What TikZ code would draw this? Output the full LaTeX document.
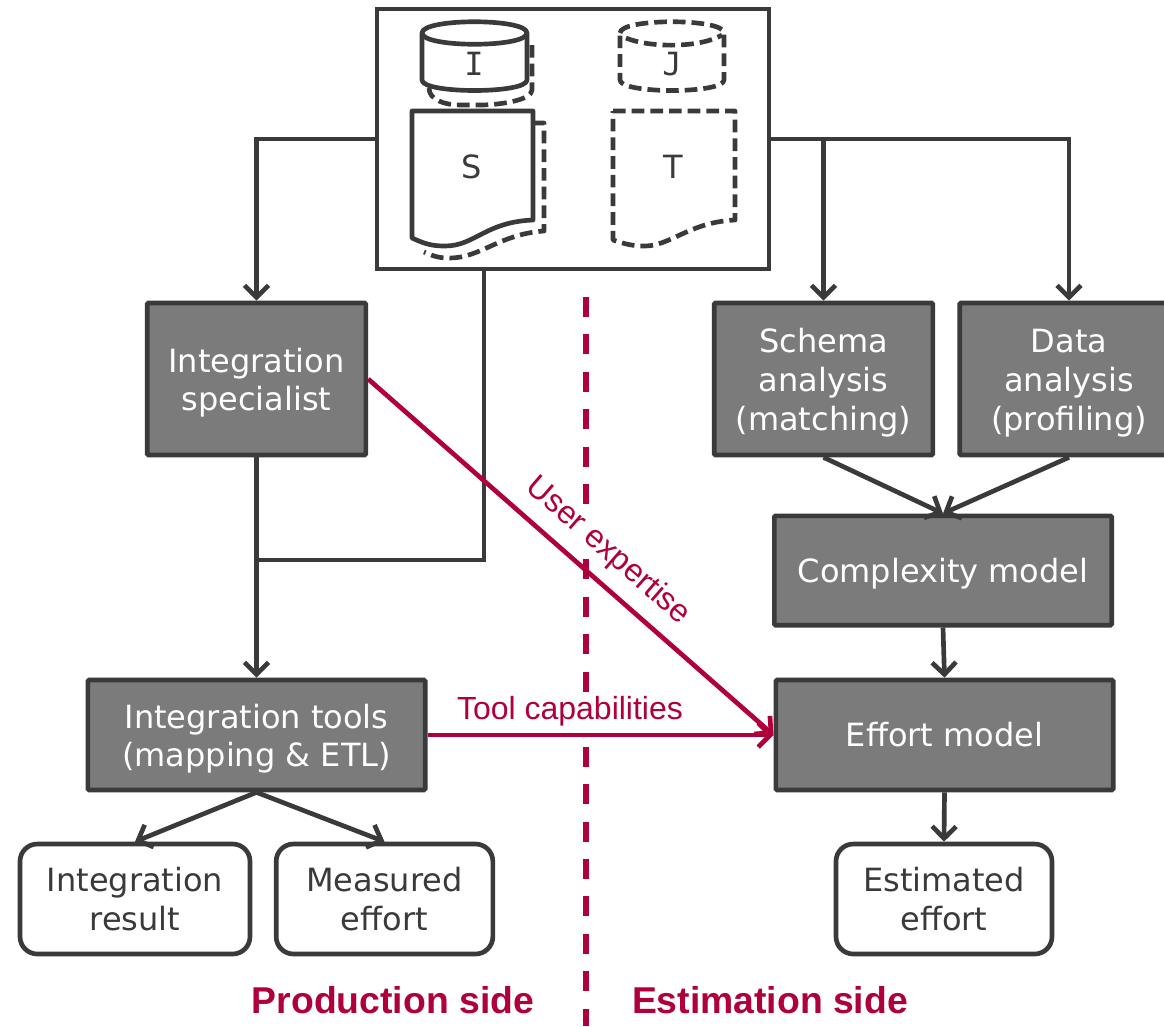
\documentclass[tikz,border=0pt]{standalone}
\usepackage{fontspec}
\setmainfont{DejaVu Sans}
\newfontfamily\labelfont{Liberation Sans}
\newfontfamily\letterfont{DejaVu Sans Mono}
\usetikzlibrary{arrows.meta}
\definecolor{edgegray}{HTML}{3A3A3A}
\definecolor{boxgray}{HTML}{7B7B7B}
\definecolor{wine}{HTML}{B0003C}
\newcommand{\lowered}{\rule{0pt}{23.5pt}}
\tikzset{
  procbox/.style={draw=edgegray,line width=3.5pt,fill=boxgray,text=white,align=center,inner sep=0pt,
    font=\fontsize{24}{29}\selectfont,rounded corners=1pt},
  resultbox/.style={draw=edgegray,line width=3.5pt,fill=white,text=edgegray,align=center,inner sep=0pt,
    font=\fontsize{24}{29}\selectfont,rounded corners=13pt,minimum height=82.5pt},
  flow/.style={draw=edgegray,line width=3.5pt,-{Straight Barb[length=9pt,width=18pt,line width=3.5pt]}},
  plain line/.style={draw=edgegray,line width=3.5pt},
  wineflow/.style={draw=wine,line width=3.5pt,-{Straight Barb[length=9pt,width=18pt,line width=3.5pt]}},
  solidshape/.style={draw=edgegray,line width=3.5pt,fill=white,line join=round},
  dashshape/.style={draw=edgegray,line width=3.5pt,dash pattern=on 9.5pt off 4.5pt,line join=round},
  letter/.style={text=edgegray,font=\fontsize{24}{26}\selectfont,inner sep=0pt},
  sidelabel/.style={text=wine,font=\labelfont\bfseries\fontsize{28}{30}\selectfont,inner sep=0pt},
  winelabel/.style={text=wine,fill=white,font=\labelfont\fontsize{24}{26}\selectfont,inner sep=2pt},
}
\begin{document}
\begin{tikzpicture}[x=0.75pt,y=-0.75pt]
\useasboundingbox (0,0) rectangle (1164,1026);

% divider
\coordinate (divtop) at (586,297);
\coordinate (divbottom) at (586,1026);
\draw[wine,line width=4pt,dash pattern=on 15pt off 13.1pt] (divtop) -- (divbottom);

% inputs
\node[draw=edgegray,line width=3.5pt,fill=white,minimum width=294pt,minimum height=195pt,inner sep=0pt] (inputs) at (573,139) {};
\draw[dashshape] (532,45) -- (532,90) .. controls (532,100) and (500,105) .. (480,105) -- (460,105) .. controls (445,105) and (429,100) .. (429,88);
\draw[solidshape] (422,33) .. controls (422,18) and (527,18) .. (527,33) -- (527,80) .. controls (527,94) and (422,94) .. (422,80) -- cycle;
\draw[edgegray,line width=3.5pt] (422,33) .. controls (422,48) and (527,48) .. (527,33);
\node[letter,font=\letterfont\fontsize{24}{26}\selectfont] (letterI) at (474,64) {I};
\draw[dashshape] (620,33) .. controls (620,18) and (724,18) .. (724,33) -- (724,80) .. controls (724,94) and (620,94) .. (620,80) -- cycle;
\draw[dashshape] (626,38) .. controls (650,48) and (700,48) .. (722,35);
\node[letter,font=\letterfont\fontsize{24}{26}\selectfont] (letterJ) at (672,64) {J};
\draw[dashshape] (533,123) -- (544,123) -- (544,231) .. controls (500,234) and (480,258) .. (450,258) .. controls (440,258) and (435,257) .. (424,252);
\draw[solidshape] (412,111) -- (533,111) -- (533,220) .. controls (485,222) and (475,246) .. (445,246) .. controls (432,246) and (425,244) .. (412,238) -- cycle;
\node[letter] (letterS) at (472,167) {S};
\draw[dashshape] (613,111) -- (735,111) -- (735,220) .. controls (690,222) and (670,246) .. (645,246) .. controls (632,246) and (625,244) .. (613,240) -- cycle;
\node[letter] (letterT) at (673,167) {T};

% boxes
\node[procbox,minimum width=164pt,minimum height=114pt] (specialist) at (256.5,379) {\lowered Integration\\specialist\vphantom{(}};
\node[procbox,minimum width=164pt,minimum height=114pt] (schema) at (823.5,379) {\lowered Schema\\analysis\\(matching)};
\node[procbox,minimum width=164pt,minimum height=114pt] (data) at (1069,379) {\lowered Data\\analysis\\(profiling)};
\node[procbox,minimum width=253pt,minimum height=82pt] (complexity) at (943,570.5) {\lowered Complexity model};
\node[procbox,minimum width=253pt,minimum height=82.5pt] (effort) at (944.5,735) {Effort model};
\node[procbox,minimum width=253pt,minimum height=82.5pt] (tools) at (256.5,735) {\lowered Integration tools\\(mapping \& ETL)};
\node[resultbox,minimum width=172.5pt] (intresult) at (135,899) {Integration\\result};
\node[resultbox,minimum width=162.5pt] (measured) at (384.5,899) {Measured\\effort};
\node[resultbox,minimum width=162pt] (estimated) at (944,899) {Estimated\\effort};

% connectors
\coordinate (exit) at (484,269);
\coordinate (joint) at (256.5,560);
\draw[flow] (inputs.west) -| (specialist.north);
\draw[flow] (inputs.east) -| (schema.north);
\draw[flow] (inputs.east) -| (data.north);
\draw[plain line] (exit) |- (joint);
\draw[flow] (specialist.south) -- (tools.north);
\draw[flow] (schema.south) -- (complexity.north);
\draw[flow] (data.south) -- (complexity.north);
\draw[flow] (complexity.south) -- (effort.north);
\draw[flow] (effort.south) -- (estimated.north);
\draw[flow] (tools.south) -- (intresult.north);
\draw[flow] (tools.south) -- (measured.north);

% labels and influence arrows
\node[winelabel,rotate=-41] (expertise) at (608,551) {User expertise};
\node[winelabel] (capabilities) at (570,711) {Tool capabilities};
\draw[wineflow] (specialist.east) -- (effort.west);
\draw[wineflow] (tools.east) -- (effort.west);
\node[sidelabel] (production) at (393,1000) {Production side};
\node[sidelabel] (estimation) at (770,1000) {Estimation side};
\end{tikzpicture}
\end{document}
